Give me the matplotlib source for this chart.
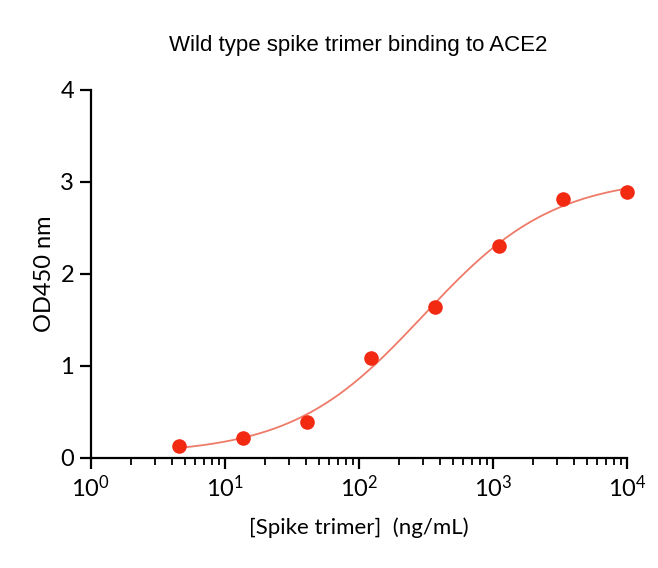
import numpy as np
import matplotlib
matplotlib.use("Agg")
import matplotlib.pyplot as plt
from matplotlib.ticker import LogLocator, NullFormatter

# Data
concentration = [4.57, 13.7, 41.2, 123.5, 370.4, 1111.1, 3333.3, 10000.0]
od450 = [0.13, 0.22, 0.39, 1.08, 1.64, 2.30, 2.81, 2.89]
y_ticks = [0, 1, 2, 3, 4]
title = "Wild type spike trimer binding to ACE2"
xlabel = "[Spike trimer]  (ng/mL)"
ylabel = "OD450 nm"

x = np.array(concentration)
y = np.array(od450)

# 4-parameter logistic fit (grid search on EC50 / Hill, linear LS for bottom/top)
best = None
lx = np.log10(x)
for logec in np.linspace(1.5, 3.5, 201):
    for hill in np.linspace(0.5, 2.0, 151):
        f = 1.0 / (1.0 + 10 ** ((logec - lx) * hill))
        A = np.vstack([1 - f, f]).T
        coef, *_ = np.linalg.lstsq(A, y, rcond=None)
        res = np.sum((A @ coef - y) ** 2)
        if best is None or res < best[0]:
            best = (res, logec, hill, coef)
_, logec, hill, (bottom, top) = best
xf = np.logspace(np.log10(x.min()), np.log10(x.max()), 300)
yf = bottom + (top - bottom) / (1 + 10 ** ((logec - np.log10(xf)) * hill))

plt.rcParams['font.family'] = ['Lato', 'DejaVu Sans']
fig = plt.figure(figsize=(6.58, 5.68), dpi=100)
ax = fig.add_axes([0.138, 0.194, 0.815, 0.648])

ax.plot(xf, yf, color='#EE7A68', lw=1.3, zorder=2, clip_on=False)
ax.plot(x, y, 'o', color='#F22A12', markersize=10.5, markeredgewidth=0, zorder=3,
        clip_on=False)

ax.set_xscale('log')
ax.set_xlim(1, 1e4)
ax.set_ylim(0, 4)
ax.set_yticks(y_ticks)
ax.xaxis.set_major_locator(LogLocator(base=10, numticks=10))
ax.xaxis.set_minor_locator(LogLocator(base=10, subs=np.arange(2, 10), numticks=50))
ax.xaxis.set_minor_formatter(NullFormatter())

for s in ['top', 'right']:
    ax.spines[s].set_visible(False)
for s in ['left', 'bottom']:
    ax.spines[s].set_linewidth(1.6)

ax.tick_params(axis='both', which='major', direction='out', length=8, width=1.6,
               labelsize=17, colors='black', pad=4)
ax.tick_params(axis='x', which='minor', direction='out', length=5, width=1.3)

ax.set_xlabel(xlabel, fontsize=16, labelpad=12)
ax.set_ylabel(ylabel, fontsize=17, labelpad=4)
fig.text(0.545, 0.92, title, ha='center', va='center', fontsize=16,
         family=['Liberation Sans', 'DejaVu Sans'])

fig.savefig('out.png', dpi=100, facecolor='white')
